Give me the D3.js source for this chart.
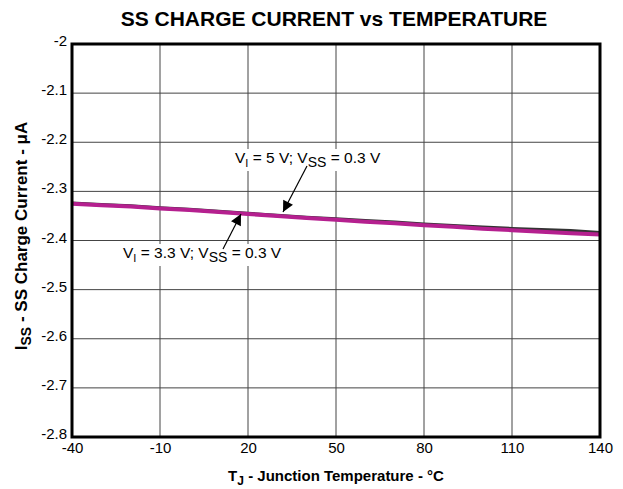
<!DOCTYPE html>
<html><head><meta charset="utf-8">
<script src="https://cdn.jsdelivr.net/npm/d3@7"></script>
<style>body{margin:0;background:#fff}svg{display:block}text{font-family:"Liberation Sans",Arial,sans-serif}</style>
</head><body><svg id="c" width="623" height="489"></svg>
<script>
const temps = [-40,-30,-20,-10,0,10,20,30,40,50,60,70,80,90,100,110,120,130,140];
const iss5V  = [-2.324,-2.327,-2.330,-2.334,-2.337,-2.341,-2.345,-2.349,-2.353,-2.356,-2.360,-2.363,-2.367,-2.370,-2.373,-2.376,-2.378,-2.380,-2.384];
const iss33V = [-2.325,-2.328,-2.331,-2.335,-2.338,-2.342,-2.346,-2.350,-2.354,-2.358,-2.362,-2.365,-2.369,-2.372,-2.376,-2.379,-2.382,-2.385,-2.388];
const xTicks = [-40,-10,20,50,80,110,140];
const yTicks = [-2,-2.1,-2.2,-2.3,-2.4,-2.5,-2.6,-2.7,-2.8];
const yTickLabels = ["-2","-2.1","-2.2","-2.3","-2.4","-2.5","-2.6","-2.7","-2.8"];
const xTickLabels = ["-40","-10","20","50","80","110","140"];

const L=72,R=600,T=44,B=437;
const svg=d3.select("#c");
const x=d3.scaleLinear().domain([-40,140]).range([L,R]);
const y=d3.scaleLinear().domain([-2,-2.8]).range([T,B]);
const FF="Liberation Sans, Arial, sans-serif";

// grid
svg.append("g").selectAll("line").data(xTicks.slice(1,-1)).join("line")
  .attr("x1",d=>x(d)).attr("x2",d=>x(d)).attr("y1",T).attr("y2",B)
  .attr("stroke","#444").attr("stroke-width",1);
svg.append("g").selectAll("line").data(yTicks.slice(1,-1)).join("line")
  .attr("y1",d=>y(d)).attr("y2",d=>y(d)).attr("x1",L).attr("x2",R)
  .attr("stroke","#444").attr("stroke-width",1);

// axes labels via d3 axes
const xa=svg.append("g").attr("transform",`translate(0,${B})`)
  .call(d3.axisBottom(x).tickValues(xTicks).tickSize(0).tickPadding(5).tickFormat((d,i)=>xTickLabels[i]));
xa.select(".domain").remove();
xa.selectAll("text").attr("font-size",15).attr("fill","#000").attr("font-family",FF);
const ya=svg.append("g").attr("transform",`translate(${L},0)`)
  .call(d3.axisLeft(y).tickValues(yTicks).tickSize(0).tickPadding(5).tickFormat((d,i)=>yTickLabels[i]));
ya.select(".domain").remove();
ya.selectAll("text").attr("font-size",15).attr("fill","#000").attr("font-family",FF).attr("dy","0.1em");

// lines
const line=d3.line().x((d,i)=>x(temps[i])).y(d=>y(d));
svg.append("path").datum(iss5V).attr("d",line).attr("fill","none").attr("stroke","#333").attr("stroke-width",3.5);
svg.append("path").datum(iss33V).attr("d",line).attr("fill","none").attr("stroke","#b5208f").attr("stroke-width",4);

// border
svg.append("rect").attr("x",L).attr("y",T).attr("width",R-L).attr("height",B-T)
  .attr("fill","none").attr("stroke","#000").attr("stroke-width",3);

// annotations
function label(xp,yp,main,rest){
  const g=svg.append("g");
  const t=g.append("text").attr("x",xp).attr("y",yp).attr("font-size",15.5);
  t.append("tspan").text("V");
  t.append("tspan").attr("dy",4).attr("font-size",11).text("I");
  t.append("tspan").attr("dy",-4).text(main);
  t.append("tspan").attr("dy",4).attr("font-size",14).text("SS");
  t.append("tspan").attr("dy",-4).text(rest);
  const bb=t.node().getBBox();
  g.insert("rect","text").attr("x",bb.x-2).attr("y",bb.y).attr("width",bb.width+4).attr("height",bb.height+1).attr("fill","#fff");
}
label(235,163," = 5 V; V"," = 0.3 V");
label(123,258," = 3.3 V; V"," = 0.3 V");

svg.append("defs").append("marker").attr("id","ah").attr("viewBox","0 0 10 10").attr("refX",10).attr("refY",5)
  .attr("markerWidth",15).attr("markerHeight",11).attr("markerUnits","userSpaceOnUse").attr("orient","auto")
  .append("path").attr("d","M0,0L10,5L0,10z").attr("fill","#000");
function arrow(x1,y1,x2,y2){
  svg.append("line").attr("x1",x1).attr("y1",y1).attr("x2",x2).attr("y2",y2)
    .attr("stroke","#000").attr("stroke-width",1.2).attr("marker-end","url(#ah)");
}
arrow(307,166,283,212);
arrow(223,249,241,214);

// titles
svg.append("text").attr("x",(L+R)/2-2).attr("y",26).attr("text-anchor","middle")
  .attr("font-size",21).attr("font-weight","bold").text("SS CHARGE CURRENT vs TEMPERATURE");
const xt=svg.append("text").attr("x",(L+R)/2).attr("y",481).attr("text-anchor","middle").attr("font-size",15).attr("font-weight","bold");
xt.append("tspan").text("T");
xt.append("tspan").attr("dy",4).attr("font-size",12).text("J");
xt.append("tspan").attr("dy",-4).text(" - Junction Temperature - °C");
const yt=svg.append("text").attr("transform",`translate(27,236) rotate(-90)`).attr("text-anchor","middle").attr("font-size",17).attr("font-weight","bold");
yt.append("tspan").text("I");
yt.append("tspan").attr("dy",4).attr("font-size",14).text("SS");
yt.append("tspan").attr("dy",-4).text(" - SS Charge Current - ");
yt.append("tspan").text("μA");
</script></body></html>
